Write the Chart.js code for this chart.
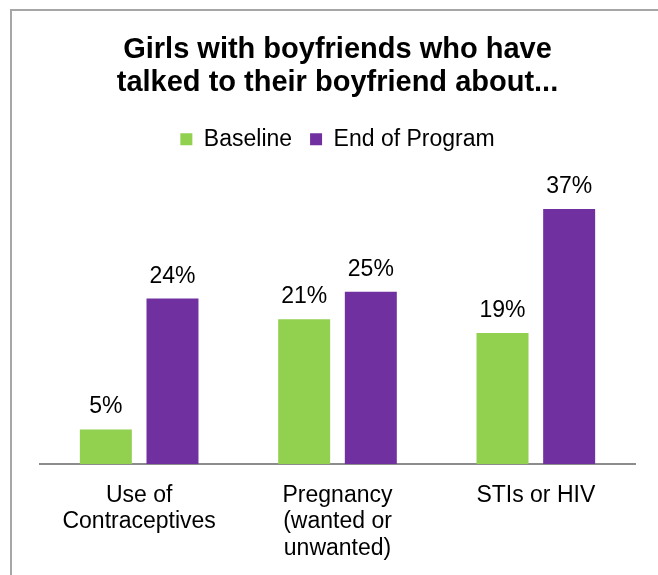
<!DOCTYPE html>
<html lang="en">
<head>
    <meta charset="UTF-8">
    <title>Girls with boyfriends who have talked to their boyfriend about...</title>
    <script src="https://cdn.jsdelivr.net/npm/chart.js"></script>
    <style>
        body {
            margin: 0;
            padding: 0;
            background-color: #fff;
        }
        .chart-container {
            position: relative;
            width: 658px;
            height: 575px;
        }
    </style>
</head>
<body>
    <div class="chart-container">
        <canvas id="barChart"></canvas>
    </div>

    <script>
        const categories = [
            ['Use of', 'Contraceptives'],
            ['Pregnancy', '(wanted or', 'unwanted)'],
            ['STIs or HIV']
        ];
        const seriesNames = ['Baseline', 'End of Program'];
        const baselineValues = [5, 21, 19];
        const endOfProgramValues = [24, 25, 37];
        const yMax = 44;

        const FONT = "'Liberation Sans', Arial, sans-serif";

        // light grey frame around the chart, open on the right and bottom
        const framePlugin = {
            id: 'frame',
            beforeDraw(chart) {
                const ctx = chart.ctx;
                ctx.save();
                ctx.fillStyle = '#fff';
                ctx.fillRect(0, 0, chart.width, chart.height);
                ctx.strokeStyle = '#a6a6a6';
                ctx.lineWidth = 2;
                ctx.strokeRect(11, 10, 800, 800);
                ctx.restore();
            }
        };

        // percentage labels above each bar
        const valueLabels = {
            id: 'valueLabels',
            afterDatasetsDraw(chart) {
                const ctx = chart.ctx;
                ctx.save();
                ctx.font = '23px ' + FONT;
                ctx.fillStyle = '#000';
                ctx.textAlign = 'center';
                ctx.textBaseline = 'alphabetic';
                chart.data.datasets.forEach((ds, i) => {
                    chart.getDatasetMeta(i).data.forEach((bar, j) => {
                        ctx.fillText(ds.data[j] + '%', bar.x, bar.y - 16);
                    });
                });
                ctx.restore();
            }
        };

        const ctx = document.getElementById('barChart').getContext('2d');
        new Chart(ctx, {
            type: 'bar',
            data: {
                labels: categories,
                datasets: [{
                    label: seriesNames[0],
                    data: baselineValues,
                    backgroundColor: '#92d050'
                }, {
                    label: seriesNames[1],
                    data: endOfProgramValues,
                    backgroundColor: '#7030a0'
                }]
            },
            options: {
                responsive: true,
                maintainAspectRatio: false,
                animation: false,
                categoryPercentage: 0.672,
                barPercentage: 0.78,
                layout: {
                    padding: { left: 40, right: 23, top: 0, bottom: -5 }
                },
                plugins: {
                    title: {
                        display: true,
                        text: ['Girls with boyfriends who have', 'talked to their boyfriend about...'],
                        color: '#000',
                        font: { family: FONT, size: 29, weight: 'bold', lineHeight: 1.15 },
                        padding: { top: 33, bottom: 10 }
                    },
                    legend: {
                        display: true,
                        position: 'top',
                        labels: {
                            color: '#000',
                            font: { family: FONT, size: 23 },
                            boxWidth: 12,
                            boxHeight: 12,
                            padding: 18
                        }
                    },
                    tooltip: { enabled: false }
                },
                scales: {
                    x: {
                        grid: { display: false, drawTicks: false },
                        border: { display: true, color: '#8c8c8c', width: 2 },
                        ticks: {
                            color: '#000',
                            font: { family: FONT, size: 23, lineHeight: 1.16 },
                            padding: 18,
                            maxRotation: 0,
                            autoSkip: false
                        }
                    },
                    y: {
                        display: false,
                        min: 0,
                        max: yMax
                    }
                }
            },
            plugins: [framePlugin, valueLabels]
        });
    </script>
</body>
</html>
